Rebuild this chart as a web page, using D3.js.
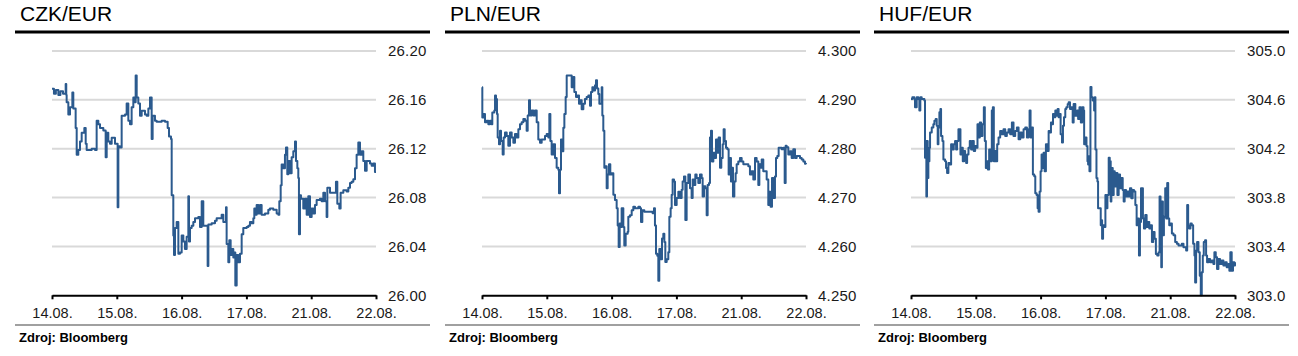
<!DOCTYPE html>
<html>
<head>
<meta charset="utf-8">
<script src="https://cdn.jsdelivr.net/npm/d3@7"></script>
<style>
  html, body { margin: 0; padding: 0; background: #fff; }
  svg { display: block; font-family: "Liberation Sans", Arial, sans-serif; }
</style>
</head>
<body>
<svg id="chart" width="1298" height="356"></svg>
<script>
// ---------------- DATA ----------------
const dayLabels = ["14.08.", "15.08.", "16.08.", "17.08.", "21.08.", "22.08."];
const titles = ["CZK/EUR", "PLN/EUR", "HUF/EUR"];
const sourceText = "Zdroj: Bloomberg";

const czkTicks = [26.00, 26.04, 26.08, 26.12, 26.16, 26.20];
const plnTicks = [4.250, 4.260, 4.270, 4.280, 4.290, 4.300];
const hufTicks = [303.0, 303.4, 303.8, 304.2, 304.6, 305.0];

// [trading day index (0 = 14.08.), rate]
const czkData = [
[0.000,26.169],[0.030,26.165],[0.060,26.168],[0.098,26.164],[0.130,26.167],[0.170,26.165],[0.211,26.173],[0.220,26.164],
[0.226,26.158],[0.252,26.148],[0.278,26.154],[0.314,26.166],[0.329,26.153],[0.355,26.153],[0.365,26.137],[0.381,26.115],
[0.406,26.119],[0.432,26.126],[0.458,26.133],[0.499,26.137],[0.520,26.124],[0.535,26.119],[0.561,26.119],[0.612,26.120],
[0.664,26.119],[0.689,26.143],[0.715,26.140],[0.741,26.137],[0.792,26.135],[0.828,26.113],[0.844,26.133],[0.869,26.126],
[0.895,26.124],[0.921,26.129],[0.972,26.124],[1.013,26.072],[1.024,26.122],[1.049,26.121],[1.075,26.147],[1.127,26.148],
[1.152,26.157],[1.178,26.143],[1.204,26.140],[1.229,26.154],[1.255,26.162],[1.271,26.158],[1.291,26.180],[1.307,26.162],
[1.332,26.157],[1.358,26.147],[1.384,26.151],[1.435,26.148],[1.461,26.147],[1.487,26.153],[1.512,26.162],[1.538,26.128],
[1.553,26.147],[1.589,26.143],[1.615,26.142],[1.692,26.143],[1.744,26.142],[1.785,26.137],[1.806,26.130],[1.836,26.128],
[1.847,26.082],[1.872,26.049],[1.883,26.033],[1.898,26.055],[1.924,26.060],[1.950,26.034],[1.975,26.035],[2.001,26.049],
[2.027,26.044],[2.052,26.038],[2.078,26.048],[2.104,26.081],[2.114,26.044],[2.130,26.055],[2.155,26.057],[2.181,26.060],
[2.207,26.063],[2.233,26.063],[2.258,26.064],[2.284,26.056],[2.310,26.077],[2.335,26.057],[2.387,26.057],[2.402,26.024],
[2.413,26.058],[2.464,26.059],[2.515,26.061],[2.541,26.063],[2.592,26.063],[2.618,26.066],[2.644,26.060],[2.669,26.060],
[2.685,26.072],[2.695,26.042],[2.721,26.027],[2.736,26.045],[2.757,26.033],[2.772,26.038],[2.798,26.031],[2.814,26.035],
[2.829,26.008],[2.850,26.033],[2.875,26.027],[2.901,26.034],[2.927,26.050],[2.952,26.055],[3.004,26.056],[3.030,26.057],
[3.055,26.060],[3.081,26.059],[3.107,26.063],[3.122,26.071],[3.143,26.066],[3.158,26.074],[3.184,26.067],[3.210,26.074],
[3.235,26.066],[3.287,26.067],[3.338,26.070],[3.364,26.071],[3.415,26.070],[3.467,26.067],[3.493,26.066],[3.508,26.077],
[3.529,26.090],[3.544,26.107],[3.570,26.104],[3.595,26.115],[3.611,26.121],[3.631,26.099],[3.647,26.110],[3.673,26.100],
[3.698,26.113],[3.724,26.118],[3.750,26.126],[3.765,26.110],[3.786,26.104],[3.801,26.096],[3.811,26.050],[3.827,26.082],
[3.842,26.079],[3.878,26.071],[3.904,26.079],[3.930,26.066],[3.955,26.081],[3.981,26.064],[4.007,26.071],[4.033,26.067],
[4.058,26.074],[4.084,26.078],[4.135,26.079],[4.161,26.077],[4.187,26.084],[4.213,26.077],[4.238,26.064],[4.249,26.088],
[4.290,26.084],[4.341,26.084],[4.382,26.093],[4.403,26.075],[4.434,26.071],[4.454,26.084],[4.496,26.086],[4.547,26.085],
[4.573,26.088],[4.599,26.092],[4.624,26.093],[4.650,26.095],[4.676,26.104],[4.701,26.115],[4.727,26.125],[4.753,26.115],
[4.779,26.118],[4.804,26.110],[4.830,26.102],[4.856,26.110],[4.907,26.108],[4.933,26.106],[4.959,26.108],[4.984,26.101],
[5.000,26.101]
];

const plnData = [
[0.000,4.2926],[0.005,4.2864],[0.021,4.2871],[0.046,4.2854],[0.072,4.2857],[0.098,4.2850],[0.123,4.2857],[0.149,4.2850],
[0.159,4.2874],[0.190,4.2878],[0.201,4.2909],[0.216,4.2902],[0.231,4.2871],[0.242,4.2823],[0.262,4.2809],[0.278,4.2837],
[0.293,4.2816],[0.319,4.2788],[0.334,4.2823],[0.355,4.2833],[0.381,4.2826],[0.406,4.2806],[0.432,4.2833],[0.458,4.2823],
[0.484,4.2812],[0.509,4.2830],[0.535,4.2823],[0.561,4.2840],[0.586,4.2850],[0.612,4.2854],[0.638,4.2861],[0.664,4.2857],
[0.689,4.2837],[0.705,4.2868],[0.725,4.2899],[0.741,4.2868],[0.766,4.2878],[0.792,4.2868],[0.818,4.2878],[0.844,4.2854],
[0.869,4.2819],[0.895,4.2812],[0.921,4.2819],[0.972,4.2826],[0.998,4.2830],[1.024,4.2823],[1.039,4.2871],[1.055,4.2816],
[1.075,4.2788],[1.101,4.2809],[1.127,4.2781],[1.152,4.2761],[1.178,4.2757],[1.188,4.2709],[1.204,4.2757],[1.219,4.2819],
[1.240,4.2795],[1.255,4.2843],[1.271,4.2871],[1.291,4.2906],[1.307,4.2950],[1.332,4.2950],[1.358,4.2950],[1.384,4.2926],
[1.409,4.2947],[1.425,4.2916],[1.451,4.2906],[1.476,4.2909],[1.497,4.2892],[1.517,4.2899],[1.538,4.2881],[1.564,4.2892],
[1.589,4.2902],[1.615,4.2906],[1.641,4.2909],[1.667,4.2888],[1.682,4.2916],[1.703,4.2926],[1.718,4.2919],[1.744,4.2930],
[1.759,4.2940],[1.775,4.2923],[1.795,4.2912],[1.811,4.2892],[1.826,4.2892],[1.847,4.2926],[1.857,4.2868],[1.872,4.2837],
[1.888,4.2761],[1.908,4.2764],[1.924,4.2719],[1.939,4.2747],[1.960,4.2768],[1.980,4.2747],[2.001,4.2750],[2.027,4.2706],
[2.052,4.2695],[2.078,4.2678],[2.094,4.2643],[2.109,4.2599],[2.125,4.2647],[2.140,4.2640],[2.155,4.2678],[2.181,4.2640],
[2.196,4.2602],[2.217,4.2626],[2.248,4.2630],[2.258,4.2661],[2.284,4.2664],[2.310,4.2674],[2.335,4.2681],[2.361,4.2678],
[2.413,4.2681],[2.438,4.2678],[2.454,4.2650],[2.474,4.2674],[2.505,4.2671],[2.541,4.2671],[2.592,4.2671],[2.633,4.2668],
[2.654,4.2678],[2.669,4.2643],[2.685,4.2585],[2.705,4.2581],[2.721,4.2530],[2.736,4.2595],[2.757,4.2574],[2.778,4.2616],
[2.798,4.2626],[2.814,4.2609],[2.829,4.2568],[2.850,4.2574],[2.875,4.2588],[2.891,4.2661],[2.911,4.2678],[2.927,4.2706],
[2.942,4.2737],[2.963,4.2733],[2.978,4.2685],[3.004,4.2699],[3.030,4.2712],[3.055,4.2699],[3.081,4.2716],[3.096,4.2733],
[3.117,4.2743],[3.138,4.2654],[3.158,4.2730],[3.184,4.2747],[3.210,4.2719],[3.235,4.2699],[3.251,4.2737],[3.271,4.2726],
[3.292,4.2747],[3.312,4.2740],[3.338,4.2730],[3.364,4.2747],[3.390,4.2740],[3.405,4.2702],[3.426,4.2723],[3.446,4.2719],
[3.467,4.2664],[3.482,4.2726],[3.503,4.2730],[3.518,4.2823],[3.534,4.2837],[3.549,4.2774],[3.570,4.2792],[3.595,4.2781],
[3.611,4.2819],[3.631,4.2792],[3.652,4.2823],[3.673,4.2761],[3.693,4.2781],[3.714,4.2809],[3.729,4.2840],[3.745,4.2816],
[3.765,4.2802],[3.786,4.2799],[3.806,4.2747],[3.827,4.2781],[3.842,4.2733],[3.858,4.2761],[3.873,4.2702],[3.894,4.2733],
[3.914,4.2750],[3.930,4.2768],[3.955,4.2774],[3.981,4.2781],[4.007,4.2774],[4.033,4.2768],[4.084,4.2768],[4.110,4.2764],
[4.135,4.2747],[4.161,4.2754],[4.187,4.2737],[4.213,4.2781],[4.238,4.2774],[4.264,4.2726],[4.280,4.2768],[4.300,4.2761],
[4.316,4.2778],[4.341,4.2754],[4.367,4.2754],[4.393,4.2737],[4.418,4.2685],[4.434,4.2712],[4.454,4.2681],[4.475,4.2740],
[4.496,4.2699],[4.521,4.2743],[4.537,4.2781],[4.557,4.2785],[4.578,4.2802],[4.599,4.2802],[4.624,4.2799],[4.650,4.2802],
[4.671,4.2730],[4.686,4.2806],[4.701,4.2803],[4.727,4.2788],[4.753,4.2795],[4.779,4.2781],[4.804,4.2799],[4.830,4.2781],
[4.856,4.2785],[4.881,4.2785],[4.907,4.2781],[4.933,4.2778],[4.959,4.2774],[4.984,4.2769],[5.000,4.2768]
];

const hufData = [
[0.000,304.608],[0.021,304.622],[0.052,304.608],[0.062,304.539],[0.088,304.622],[0.113,304.608],[0.129,304.512],[0.144,304.622],
[0.165,304.608],[0.191,304.608],[0.206,304.594],[0.216,304.126],[0.227,304.263],[0.237,303.808],[0.247,304.263],[0.258,303.960],
[0.268,304.098],[0.284,304.208],[0.294,304.332],[0.320,304.374],[0.345,304.401],[0.361,304.429],[0.381,304.443],[0.397,304.388],
[0.412,304.236],[0.423,304.374],[0.438,304.498],[0.454,304.526],[0.464,304.305],[0.485,304.263],[0.500,304.112],[0.526,304.098],
[0.541,304.043],[0.557,304.001],[0.577,304.084],[0.603,304.070],[0.619,304.236],[0.639,304.194],[0.660,304.236],[0.680,304.263],
[0.696,304.194],[0.711,304.263],[0.732,304.360],[0.747,304.360],[0.763,304.153],[0.784,304.208],[0.799,304.098],[0.820,304.181],
[0.835,304.112],[0.851,304.084],[0.866,304.153],[0.887,304.208],[0.907,304.263],[0.928,304.194],[0.948,304.263],[0.969,304.181],
[0.990,304.222],[1.010,304.208],[1.026,304.401],[1.041,304.291],[1.062,304.415],[1.082,304.305],[1.103,304.401],[1.124,304.539],
[1.139,304.263],[1.155,304.043],[1.170,304.098],[1.186,304.029],[1.206,304.194],[1.227,304.098],[1.247,304.512],[1.263,304.539],
[1.278,304.098],[1.299,304.181],[1.314,304.098],[1.330,304.236],[1.351,304.291],[1.376,304.346],[1.402,304.319],[1.428,304.360],
[1.454,304.305],[1.479,304.332],[1.505,304.360],[1.531,304.319],[1.557,304.415],[1.582,304.305],[1.608,304.346],[1.634,304.374],
[1.660,304.277],[1.686,304.332],[1.711,304.291],[1.737,304.360],[1.763,304.374],[1.789,304.291],[1.814,304.360],[1.830,304.512],
[1.845,304.291],[1.866,304.374],[1.881,303.988],[1.902,303.974],[1.918,303.836],[1.938,303.822],[1.954,303.712],[1.969,303.684],
[1.985,303.850],[2.000,304.015],[2.015,304.153],[2.031,304.043],[2.046,304.167],[2.062,304.015],[2.082,304.236],[2.103,304.181],
[2.124,304.346],[2.144,304.332],[2.160,304.415],[2.175,304.401],[2.191,304.484],[2.211,304.457],[2.227,304.512],[2.242,304.470],
[2.263,304.526],[2.278,304.457],[2.294,304.484],[2.309,304.319],[2.330,304.250],[2.345,304.388],[2.361,304.457],[2.381,304.526],
[2.397,304.539],[2.418,304.567],[2.433,304.581],[2.454,304.526],[2.474,304.539],[2.495,304.415],[2.510,304.567],[2.536,304.470],
[2.564,304.512],[2.579,304.443],[2.600,304.539],[2.621,304.415],[2.641,304.539],[2.662,304.512],[2.672,304.236],[2.692,304.291],
[2.708,304.222],[2.723,304.098],[2.733,304.070],[2.744,304.139],[2.754,304.015],[2.769,304.705],[2.785,304.622],[2.805,304.594],
[2.826,304.512],[2.836,304.622],[2.846,304.194],[2.862,303.960],[2.877,303.932],[2.887,303.712],[2.908,303.712],[2.928,303.574],
[2.938,303.615],[2.949,303.463],[2.964,303.574],[2.979,303.560],[3.000,303.822],[3.015,303.712],[3.031,303.822],[3.051,304.126],
[3.067,304.098],[3.082,303.767],[3.092,304.043],[3.113,303.822],[3.128,304.015],[3.144,303.891],[3.164,304.001],[3.185,303.822],
[3.205,303.988],[3.226,303.877],[3.246,303.960],[3.267,303.863],[3.282,303.767],[3.297,303.863],[3.318,303.808],[3.338,303.850],
[3.359,303.808],[3.379,303.877],[3.400,303.794],[3.421,303.863],[3.441,303.850],[3.462,303.739],[3.482,303.574],[3.503,303.629],
[3.518,303.326],[3.533,303.601],[3.549,303.877],[3.564,303.877],[3.579,303.629],[3.595,303.546],[3.615,303.657],[3.636,303.560],
[3.656,303.601],[3.677,303.546],[3.697,303.574],[3.718,303.436],[3.738,303.519],[3.759,303.463],[3.779,303.339],[3.800,303.326],
[3.821,303.353],[3.836,303.808],[3.851,303.463],[3.862,303.229],[3.872,303.767],[3.887,303.491],[3.903,303.643],[3.923,303.877],
[3.938,303.629],[3.954,303.919],[3.969,303.629],[3.985,303.574],[4.005,303.588],[4.026,303.505],[4.051,303.491],[4.077,303.436],
[4.103,303.422],[4.128,303.408],[4.154,303.408],[4.179,303.422],[4.205,303.394],[4.231,303.394],[4.246,303.367],[4.262,303.739],
[4.277,303.574],[4.292,303.546],[4.313,303.588],[4.333,303.574],[4.354,303.422],[4.374,303.326],[4.385,303.105],[4.400,303.367],
[4.415,303.436],[4.436,303.353],[4.456,303.160],[4.472,303.000],[4.487,303.188],[4.503,303.326],[4.518,303.436],[4.538,303.450],
[4.554,303.326],[4.569,303.270],[4.590,303.298],[4.615,303.270],[4.641,303.284],[4.667,303.257],[4.682,303.353],[4.703,303.312],
[4.723,303.215],[4.744,303.298],[4.769,303.257],[4.795,303.284],[4.821,303.243],[4.846,303.270],[4.872,303.229],[4.897,303.257],
[4.913,303.201],[4.928,303.353],[4.949,303.201],[4.969,303.270],[4.990,303.243],[5.000,303.270]
];

// ---------------- DRAW ----------------
const panels = [
  { title: titles[0], data: czkData, ticks: czkTicks, fmt: d3.format(".2f") },
  { title: titles[1], data: plnData, ticks: plnTicks, fmt: d3.format(".3f") },
  { title: titles[2], data: hufData, ticks: hufTicks, fmt: d3.format(".1f") }
];
const panelX = [0, 430, 859];
const lineColor = "#2b5a8e";
const fontFam = '"Liberation Sans", Arial, sans-serif';

const svg = d3.select("#chart");

panels.forEach((p, i) => {
  const ox = panelX[i];
  const g = svg.append("g").attr("transform", `translate(${ox},0)`);
  const left = 52, right = 376, top = 51, bottom = 295.3;

  const x = d3.scaleLinear().domain([0, dayLabels.length - 1]).range([left, right]);
  const y = d3.scaleLinear().domain([p.ticks[0], p.ticks[p.ticks.length - 1]]).range([bottom, top]);

  // title
  g.append("text").attr("x", 20).attr("y", 21)
    .attr("font-size", 21).attr("fill", "#000").text(p.title);
  // top rule
  g.append("line").attr("x1", 15).attr("x2", 430).attr("y1", 32).attr("y2", 32)
    .attr("stroke", "#000").attr("stroke-width", 3);

  // gridlines
  g.append("g").selectAll("line").data(p.ticks.slice(1)).join("line")
    .attr("x1", left).attr("x2", right)
    .attr("y1", d => y(d)).attr("y2", d => y(d))
    .attr("stroke", "#d9d9d9").attr("stroke-width", 2);

  // y axis labels (right)
  const ya = g.append("g").attr("transform", `translate(${right},0)`)
    .call(d3.axisRight(y).tickValues(p.ticks).tickFormat(p.fmt).tickSize(0).tickPadding(12));
  ya.select(".domain").remove();
  ya.selectAll("text").attr("font-size", 15).attr("fill", "#1a1a1a")
    .attr("font-family", fontFam).attr("letter-spacing", 0.2);

  // series line
  const line = d3.line().curve(d3.curveStepAfter).x(d => x(d[0])).y(d => y(d[1]));
  g.append("path").datum(p.data)
    .attr("d", line).attr("fill", "none")
    .attr("stroke", lineColor).attr("stroke-width", 2)
    .attr("stroke-linejoin", "round");

  // x axis
  const xa = g.append("g").attr("transform", `translate(0,${bottom})`)
    .call(d3.axisBottom(x).tickValues(d3.range(dayLabels.length))
      .tickFormat(d => dayLabels[d]).tickSize(4).tickSizeOuter(0).tickPadding(8));
  xa.select(".domain").attr("stroke", "#000").attr("stroke-width", 2);
  xa.selectAll(".tick line").attr("stroke", "#000").attr("stroke-width", 2);
  xa.selectAll("text").attr("font-size", 14.5).attr("fill", "#1a1a1a")
    .attr("font-family", fontFam);

  // bottom rule
  g.append("line").attr("x1", 15).attr("x2", 430).attr("y1", 325).attr("y2", 325)
    .attr("stroke", "#a0a0a0").attr("stroke-width", 2);
  // source
  g.append("text").attr("x", 19).attr("y", 342)
    .attr("font-size", 13).attr("font-weight", "bold").attr("fill", "#000")
    .text(sourceText);
});
</script>
</body>
</html>
